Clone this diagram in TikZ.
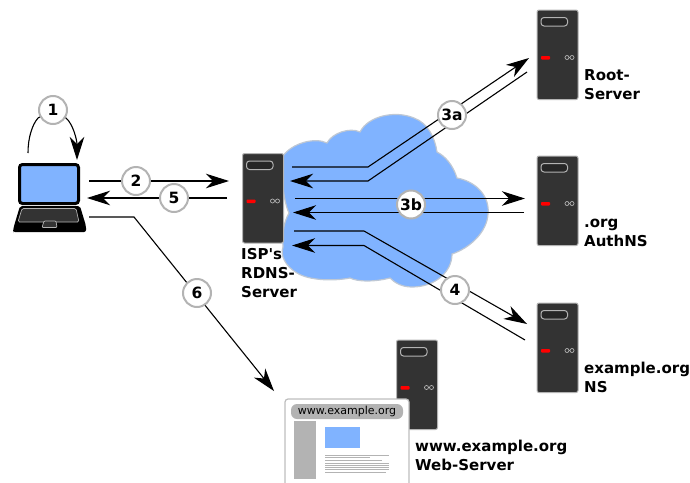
\documentclass[tikz,border=0pt]{standalone}
\usepackage{fontspec}
\setmainfont{DejaVu Sans}
\newfontfamily\djvplain{DejaVu Sans}
\usetikzlibrary{arrows.meta}
\definecolor{cloudblue}{HTML}{80B3FF}
\definecolor{cloudedge}{HTML}{BFC8D4}
\definecolor{srv}{HTML}{333333}
\definecolor{srvedge}{HTML}{B3B3B3}
\newcommand{\lsq}{\vphantom{Ag}}
\tikzset{
  x=1pt,y=-1pt,
  conn/.style={draw=black,line width=1.1pt},
  head/.style={conn,-{Stealth[length=23pt,width=14.5pt,inset=7pt]}},
  num/.style={circle,draw=srvedge,fill=white,line width=2pt,minimum size=28pt,inner sep=0pt,font=\fontsize{15.5}{15.5}\selectfont\bfseries},
  lbl/.style={anchor=north west,align=left,inner sep=0pt,font=\djvplain\fontsize{15}{19}\selectfont\bfseries},
  serverpic/.pic={
    \draw[fill=srv,draw=srvedge,line width=1pt,rounded corners=2pt] (0,0) rectangle (41,89.5);
    \draw[fill=black!85,draw=srvedge,line width=1pt,rounded corners=3pt] (4,7.5) rectangle (30.5,16);
    \fill[red,rounded corners=0.8pt] (4,46) rectangle (13,49.5);
    \draw[srvedge,line width=0.7pt] (30,47.5) circle (2) (35,47.5) circle (2);
  }
}
\begin{document}
\begin{tikzpicture}
\useasboundingbox (0,0) rectangle (690,482);
% cloud
\draw[fill=cloudblue,draw=cloudedge,line width=1.2pt]
  (283,156) .. controls (292,143) and (315,137) .. (327,143)
  .. controls (332,133) and (350,127) .. (360,132)
  .. controls (368,116) and (395,110) .. (414,118)
  .. controls (428,123) and (435,138) .. (437,152)
  .. controls (445,156) and (453,165) .. (457,178)
  .. controls (478,182) and (490,198) .. (488,214)
  .. controls (487,232) and (470,248) .. (452,254)
  .. controls (452,272) and (435,287) .. (412,287)
  .. controls (402,287) and (395,283) .. (390,278)
  .. controls (375,282) and (358,282) .. (350,278)
  .. controls (335,281) and (310,281) .. (297,273)
  .. controls (285,266) and (280,255) .. (283,247)
  .. controls (282,232) and (284,222) .. (289,213)
  .. controls (285,205) and (280,180) .. (283,156) -- cycle;
% servers
\pic (root) at (537,10) {serverpic};
\pic (auth) at (537,156) {serverpic};
\pic (ns) at (537,303) {serverpic};
\pic (isp) at (242.5,153.5) {serverpic};
\pic (web) at (396.5,340) {serverpic};
% laptop
\fill[black,rounded corners=2pt] (13,231) -- (14,226) -- (20,206) -- (80,206) -- (86,226) -- (86,232) -- (13,232) -- cycle;
\draw[srvedge,line width=0.7pt,fill=srv,rounded corners=1.5pt] (22,208.5) -- (76,208.5) -- (79,222) -- (18,222) -- cycle;
\draw[srvedge,line width=0.7pt,fill=srv,rounded corners=1pt] (44,221) -- (56,221) -- (57,227.5) -- (42,227.5) -- cycle;
\draw[black,fill=cloudblue,line width=3pt,rounded corners=3pt] (19.5,164.5) rectangle (78.5,203.5);
% web page
\draw[fill=white,draw=srvedge!85!white,line width=1.2pt,rounded corners=3pt] (285,399) rectangle (409,490);
\fill[srvedge,rounded corners=6pt] (291,404) rectangle (403,419);
\fill[srvedge] (294,421) rectangle (316,479);
\fill[cloudblue] (325,427) rectangle (360,448);
\foreach \xx/\yy in {389/455,370/457.7,382/460.7,389/463.3,389/465.3,389/467.3,389/469.3,386/472}
  \draw[srvedge,line width=1pt] (325,\yy) -- (\xx,\yy);
\node[inner sep=0pt,font=\fontsize{11}{12}\selectfont] (webtitle) at (347,411.5) {www.example.org};
% coordinates
\coordinate (c1s) at (28,153);
\coordinate (c1l) at (38,118);
\coordinate (c1t) at (53,110);
\coordinate (c1r) at (66,118);
\coordinate (c1e) at (77,160);
\coordinate (c2s) at (89,181);
\coordinate (c2e) at (229,181);
\coordinate (c5s) at (227,198);
\coordinate (c5e) at (87,198);
\coordinate (c6s) at (89,217);
\coordinate (c6b) at (134,217);
\coordinate (c6e) at (274,391);
\coordinate (a1s) at (292,167);
\coordinate (a1b) at (368,167);
\coordinate (a1e) at (529,58);
\coordinate (a2s) at (527,72);
\coordinate (a2b) at (368,181);
\coordinate (a2e) at (290,181);
\coordinate (b1s) at (295,198.5);
\coordinate (b1e) at (525,198.5);
\coordinate (b2s) at (524,212.5);
\coordinate (b2e) at (293,212.5);
\coordinate (d1s) at (294,231);
\coordinate (d1b) at (364,231);
\coordinate (d1e) at (527,324);
\coordinate (d2s) at (525,340);
\coordinate (d2b) at (364,245.5);
\coordinate (d2e) at (292,245.5);
% connectors
\draw[head] (c1s) .. controls (28,138) and (32,125) .. (c1l) -- (c1t) -- (c1r) .. controls (73,124) and (77,140) .. (c1e);
\draw[head] (c2s) -- (c2e);
\draw[head] (c5s) -- (c5e);
\draw[head] (c6s) -- (c6b) -- (c6e);
\draw[head] (a1s) -- (a1b) -- (a1e);
\draw[head] (a2s) -- (a2b) -- (a2e);
\draw[head] (b1s) -- (b1e);
\draw[head] (b2s) -- (b2e);
\draw[head] (d1s) -- (d1b) -- (d1e);
\draw[head] (d2s) -- (d2b) -- (d2e);
% numbers
\node[num] (n1) at (c1t) {1};
\node[num] (n2) at (136,181) {2};
\node[num] (n5) at (174,198) {5};
\node[num] (n6) at (197,293) {6};
\node[num] (n3a) at (452,115) {3a};
\node[num] (n3b) at (411,204.5) {3b};
\node[num] (n4) at (455,290) {4};
% labels
\node[lbl] (lroot) at (584,69.5) {\lsq Root-\\Server};
\node[lbl] (lauth) at (584,216) {\lsq .org\\AuthNS};
\node[lbl] (lns) at (584,362) {\lsq example.org\\NS};
\node[lbl] (lisp) at (241,248) {\lsq ISP's\\RDNS-\\Server};
\node[lbl] (lweb) at (415,440) {\lsq www.example.org\\Web-Server};
\end{tikzpicture}
\end{document}
